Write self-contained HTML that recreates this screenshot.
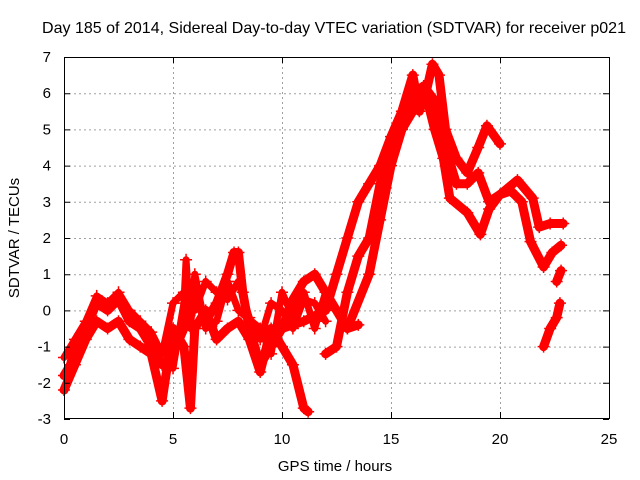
<!DOCTYPE html>
<html><head><meta charset="utf-8"><style>
body{margin:0;background:#fff;}
svg{display:block;font-family:"Liberation Sans",sans-serif;}
</style></head><body>
<svg id="chart" width="640" height="480" viewBox="0 0 640 480">
<text x="334" y="33" font-size="16" text-anchor="middle" textLength="584" lengthAdjust="spacingAndGlyphs">Day 185 of 2014, Sidereal Day-to-day VTEC variation (SDTVAR) for receiver p021</text>
<g id="grid"></g>
<g id="series"></g>
<rect x="64.5" y="57.5" width="545" height="361" fill="none" stroke="#000" stroke-width="1"/>
<g id="axes"></g>
<text x="335" y="471" font-size="15" text-anchor="middle">GPS time / hours</text>
<text transform="translate(19,238) rotate(-90)" font-size="15" text-anchor="middle">SDTVAR / TECUs</text>
</svg>
<script>
const xTicks=[0,5,10,15,20,25];
const yTicks=[-3,-2,-1,0,1,2,3,4,5,6,7];
const trackA_t=[0,0.3,0.5,1,1.5,2,2.5,3,3.5,4,4.5,5,5.5,6,6.5,7,7.5,7.8,8,8.2,8.5,9,9.5,10,10.5,11,11.5,12,12.5,13,13.5];
const trackA_v=[-1.8,-1.5,-1.0,-0.5,0.2,0.0,0.3,-0.3,-0.5,-1.0,-1.5,-1.2,-0.5,0.5,-0.3,0.2,1.0,1.6,1.6,0.5,-0.5,-1.5,-1.0,-0.5,0.3,0.8,1.0,0.5,0,-0.5,-0.4];
const trackB_t=[0,0.5,1,1.5,2,2.5,3,3.5,4,4.5,5,5.5,5.8,6,6.5,7,7.5,8,8.5,9,9.5,10,10.5,11,11.2];
const trackB_v=[-2.2,-1.5,-0.8,-0.3,-0.5,-0.3,-0.8,-1.0,-1.2,-2.5,-0.5,-1.0,-2.7,-0.5,0,-0.8,-0.5,-0.3,-0.8,-1.7,-0.5,-1.0,-1.5,-2.7,-2.8];
const trackC_t=[10,11,12,12.5,13,13.5,14,14.5,15,15.5,16,16.3,16.6,16.9,17.2,17.5,18,18.5,19,19.4,20];
const trackC_v=[-0.5,-0.3,0,1.0,2.0,3.0,3.5,4.0,4.8,5.5,6.5,5.5,6.0,6.8,6.5,5.0,4.2,3.8,4.5,5.1,4.6];
const trackD_t=[12,12.5,13,13.5,14,14.5,15,15.5,16,16.5,17,17.5,18,18.5,19,19.5,20,20.8,21.5,21.8,22.3,22.9];
const trackD_v=[-1.2,-1.0,0.5,1.5,2.0,3.5,4.5,5.0,5.5,6.2,5.8,4.5,3.5,3.5,3.8,3.0,3.2,3.6,3.1,2.3,2.4,2.4];
const trackE_t=[13,14,14.5,15,15.5,16,16.5,17,17.4,17.7,18.5,19.1,19.5,20,20.5,21,21.4,22,22.4,22.8];
const trackE_v=[-0.5,1.0,2.5,4.0,5.0,6.0,6.2,5.0,4.2,3.1,2.7,2.1,2.8,3.2,3.3,3.0,1.9,1.2,1.6,1.8];
const trackF_t=[22,22.3,22.6,22.75];
const trackF_v=[-1.0,-0.5,-0.2,0.2];
const trackG_t=[22.6,22.8];
const trackG_v=[0.8,1.1];
const trackH_t=[0,0.5,1,1.5,2,2.5,3,3.5,4,4.5,5,5.5,6,6.5,7,7.5,8,8.5,9,9.5,10,10.5,11,11.5,12];
const trackH_v=[-1.3,-0.8,-0.3,0.4,0.2,0.5,0,-0.3,-0.6,-1.2,0.2,0.5,0,0.8,0.5,0.3,0.8,-0.2,-0.8,0.2,0,-0.5,0.3,0.2,-0.3];
const trackI_t=[5,5.5,5.6,5.8,6,6.5,7,7.5,8,9,9.5,10,10.5,11,11.5,12];
const trackI_v=[-1.6,0.2,1.4,-0.5,1.0,-0.5,-0.3,0.8,0.0,-0.5,-1.2,0.5,-0.2,0.5,-0.5,0.5];

const X=t=>64+t*21.8;
const Y=v=>57+(7-v)*36.2;
const NS='http://www.w3.org/2000/svg';
const grid=document.getElementById('grid'),axes=document.getElementById('axes'),ser=document.getElementById('series');
function mk(tag,attrs,parent){const e=document.createElementNS(NS,tag);for(const k in attrs)e.setAttribute(k,attrs[k]);parent.appendChild(e);return e;}
xTicks.forEach(t=>{const x=X(t)+0.5;
 if(t>0&&t<25){const g=mk('line',{x1:x,x2:x,y1:57,y2:418,stroke:'#a0a0a0','stroke-dasharray':'2,3'},grid);}
 const tk=mk('path',{d:`M${x},418V412M${x},57V63`,stroke:'#000'},axes);
 const l=mk('text',{x:X(t),y:444,'font-size':15,'text-anchor':'middle'},axes);l.textContent=t;});
yTicks.forEach(v=>{const y=Y(v)+0.5;
 if(v>-3&&v<7){const g=mk('line',{x1:64,x2:609,y1:y,y2:y,stroke:'#a0a0a0','stroke-dasharray':'2,3'},grid);}
 const tk=mk('path',{d:`M64,${y}H70M609,${y}H603`,stroke:'#000'},axes);
 const l=mk('text',{x:51,y:Y(v)+5,'font-size':15,'text-anchor':'end'},axes);l.textContent=v;});
[[trackA_t,trackA_v],[trackB_t,trackB_v],[trackC_t,trackC_v],[trackD_t,trackD_v],[trackE_t,trackE_v],[trackF_t,trackF_v],[trackG_t,trackG_v],[trackH_t,trackH_v],[trackI_t,trackI_v]].forEach(([ts,vs],i)=>{
 const pts=ts.map((t,j)=>X(t)+','+Y(vs[j])).join(' ');
 const pl=mk('polyline',{points:pts,fill:'none',stroke:'#f00','stroke-width':i>=7?7:9,'stroke-linejoin':'round','stroke-linecap':'round'},ser);
 
 
 ts.forEach((t,j)=>{const x=X(t),y=Y(vs[j]);
  const p=mk('path',{d:`M${x-6},${y}H${x+6}M${x},${y-6}V${y+6}`,stroke:'#f00','stroke-width':1.5},ser);
  
  });
});
</script>
</body></html>
